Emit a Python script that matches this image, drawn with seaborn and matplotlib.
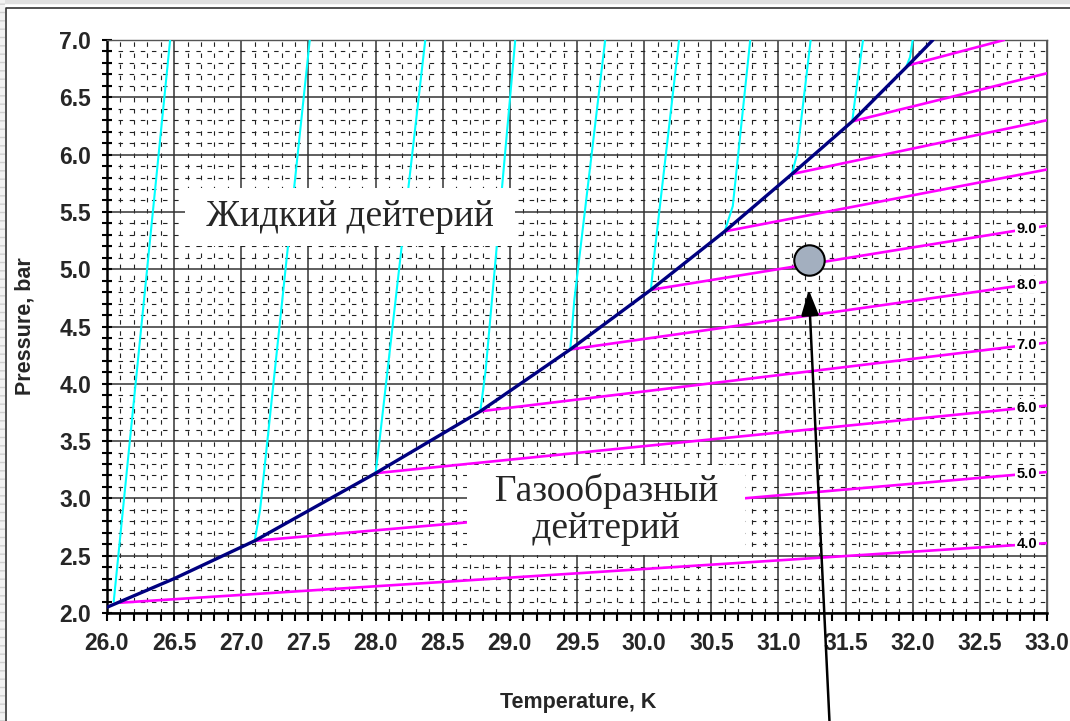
import numpy as np
import pandas as pd
import seaborn as sns
import matplotlib.pyplot as plt
from matplotlib.ticker import MultipleLocator, FormatStrFormatter
from matplotlib.patches import Rectangle
from matplotlib.lines import Line2D

# Saturation curve (liquid / gas boundary)
sat_T = [26.0, 26.5, 27.1, 28.0, 28.78, 29.45, 30.05, 30.6, 31.1, 31.55, 31.95, 32.15]
sat_P = [2.05, 2.30, 2.63, 3.22, 3.76, 4.30, 4.82, 5.33, 5.83, 6.29, 6.76, 7.0]

# Liquid branches (cyan), one list per curve
liq_T = [
    [26.05, 26.47],
    [27.10, 27.14, 27.51],
    [28.00, 28.03, 28.37],
    [28.78, 28.82, 29.04],
    [29.45, 29.48, 29.71],
    [30.05, 30.08, 30.26],
    [30.60, 30.66, 30.79],
    [31.10, 31.14, 31.24],
    [31.55, 31.57, 31.63],
    [31.95, 31.98, 32.00],
]
liq_P = [
    [2.10, 7.0],
    [2.63, 2.90, 7.0],
    [3.22, 3.51, 7.0],
    [3.76, 4.12, 7.0],
    [4.30, 4.73, 7.0],
    [4.82, 5.17, 7.0],
    [5.33, 5.55, 7.0],
    [5.83, 6.01, 7.0],
    [6.29, 6.48, 7.0],
    [6.76, 6.85, 7.0],
]

# Gas branches (magenta)
gas_T = [[26.10, 33.0], [27.10, 33.0], [28.00, 33.0], [28.78, 33.0], [29.45, 33.0],
         [30.05, 33.0], [30.60, 33.0], [31.10, 33.0], [31.55, 33.0], [31.97, 32.68]]
gas_P = [[2.09, 2.61], [2.63, 3.23], [3.22, 3.81], [3.76, 4.36], [4.30, 4.89],
         [4.82, 5.38], [5.33, 5.87], [5.83, 6.30], [6.29, 6.71], [6.78, 7.0]]
gas_labels = ['4.0', '5.0', '6.0', '7.0', '8.0', '9.0']
label_T = 32.85

# Operating point and arrow
point_T = [31.23]
point_P = [5.08]
arrow_tip = (31.226, 4.82)
arrow_tail = (31.38, 1.06)

liquid_text = 'Жидкий дейтерий'
liquid_pos = (27.81, 5.455)
gas_text = 'Газообразный\nдейтерий'
gas_pos = (29.716, 2.90)


def to_long(Ts, Ps):
    rows = []
    for i, (t, p) in enumerate(zip(Ts, Ps)):
        for a, b in zip(t, p):
            rows.append({'curve': i, 'T': a, 'P': b})
    return pd.DataFrame(rows)


liq_df = to_long(liq_T, liq_P)
gas_df = to_long(gas_T, gas_P)
sat_df = pd.DataFrame({'T': sat_T, 'P': sat_P})

sns.set_theme(style='white')
plt.rcParams['font.family'] = ['Liberation Sans', 'DejaVu Sans']

fig = plt.figure(figsize=(10.7, 7.21), dpi=100)
ax = fig.add_axes([0.1, 0.1498, 0.8785, 0.7947])

# frame of the original screenshot
fig.patches.append(Rectangle((0, 0.9958), 1, 0.0042, transform=fig.transFigure,
                             color='#e0e0e0', zorder=0))
fig.patches.append(Rectangle((0, 0), 0.0045, 1, transform=fig.transFigure,
                             facecolor='#f2f2f2', edgecolor='#d0d0d0', hatch='--',
                             lw=0, zorder=0))
fig.lines.append(Line2D([0.0058, 0.0058, 1.0], [0.0, 0.9889, 0.9889],
                        transform=fig.transFigure, color='#333333', lw=1.2))

sns.lineplot(data=gas_df, x='T', y='P', units='curve', estimator=None, sort=False,
             color='#ff00ff', lw=1.9, legend=False, ax=ax, zorder=3)
sns.lineplot(data=liq_df, x='T', y='P', units='curve', estimator=None, sort=False,
             color='#00ffff', lw=1.5, legend=False, ax=ax, zorder=3)
sns.lineplot(data=sat_df, x='T', y='P', sort=False, color='#000080', lw=2.4,
             legend=False, ax=ax, zorder=4)

for i, lab in enumerate(gas_labels):
    y = np.interp(label_T, gas_T[i], gas_P[i])
    ax.text(label_T, y, lab, ha='center', va='center', fontsize=10.5, fontweight='bold',
            color='black', zorder=6,
            bbox=dict(boxstyle='square,pad=0.1', fc='white', ec='none'))

sns.scatterplot(x=point_T, y=point_P, s=480, color='#a3afbf', edgecolor='black',
                linewidth=1.5, ax=ax, zorder=7, legend=False)

ax.annotate('', xy=arrow_tip, xytext=arrow_tail, xycoords='data', textcoords='data',
            annotation_clip=False, zorder=8,
            arrowprops=dict(arrowstyle='-|>,head_length=1.3,head_width=0.45',
                            color='black', lw=1.8, shrinkA=0, shrinkB=0))

ax.text(*liquid_pos, ' ' + liquid_text + ' ', ha='center', va='center', fontsize=27,
        family=['Liberation Serif', 'DejaVu Serif'], zorder=6,
        bbox=dict(boxstyle='square,pad=0.32', fc='white', ec='none'))
ax.text(*gas_pos, '  Газообразный  \n дейтерий ', ha='center', va='center',
        multialignment='center', fontsize=27, linespacing=1.12,
        family=['Liberation Serif', 'DejaVu Serif'], zorder=6,
        bbox=dict(boxstyle='square,pad=0.22', fc='white', ec='none'))

ax.set_xlim(26, 33)
ax.set_ylim(2, 7)
ax.xaxis.set_major_locator(MultipleLocator(0.5))
ax.yaxis.set_major_locator(MultipleLocator(0.5))
ax.xaxis.set_minor_locator(MultipleLocator(0.1))
ax.yaxis.set_minor_locator(MultipleLocator(0.1))
ax.xaxis.set_major_formatter(FormatStrFormatter('%.1f'))
ax.yaxis.set_major_formatter(FormatStrFormatter('%.1f'))

ax.grid(True, which='minor', color='#222222', lw=0.8, linestyle=(0, (4, 6)), zorder=1)
ax.grid(True, which='major', color='#333333', lw=1.1, linestyle='-', zorder=1)
ax.set_axisbelow(True)

for side in ['left', 'bottom']:
    ax.spines[side].set_color('black')
    ax.spines[side].set_linewidth(1.8)
for side in ['top', 'right']:
    ax.spines[side].set_color('#555555')
    ax.spines[side].set_linewidth(1.0)

ax.tick_params(axis='x', which='both', direction='out', length=5.5, width=1.5,
               color='black', labelsize=16.5, pad=8, bottom=True)
ax.tick_params(axis='y', which='both', direction='inout', length=7, width=1.5,
               color='black', labelsize=16.5, pad=8, left=True)
for t in ax.get_xticklabels() + ax.get_yticklabels():
    t.set_fontweight('bold')

ax.set_xlabel('Temperature, K', fontsize=15.5, fontweight='bold', va='center')
ax.set_ylabel('Pressure, bar', fontsize=15.5, fontweight='bold', va='center')
ax.xaxis.set_label_coords(0.501, -0.157)
ax.yaxis.set_label_coords(-0.087, 0.5)

fig.savefig('out.png', dpi=100)
